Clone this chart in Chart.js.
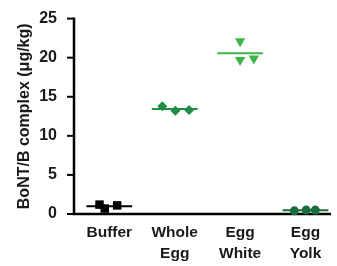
<!DOCTYPE html>
<html>
<head>
<meta charset="utf-8">
<script src="https://cdn.jsdelivr.net/npm/chart.js@4/dist/chart.umd.min.js"></script>
<style>
  html,body{margin:0;padding:0;background:#fff;}
  #wrap{position:relative;width:337px;height:266px;}
</style>
</head>
<body>
<div id="wrap"><canvas id="c"></canvas></div>
<script>
/* groups along the x axis */
var groups=[['Buffer'],['Whole','Egg'],['Egg','White'],['Egg','Yolk']];
/* measured values, three replicates per group (ug/kg) */
var bufferVals=[1.2,0.7,1.1];
var wholeEggVals=[13.8,13.2,13.3];
var eggWhiteVals=[22.1,19.7,19.9];
var eggYolkVals=[0.4,0.5,0.5];
/* horizontal scatter of the replicate symbols, in group units */
var bufferJit=[-0.15,-0.07,0.12];
var wholeEggJit=[-0.19,0.01,0.22];
var eggWhiteJit=[0,0,0.21];
var eggYolkJit=[-0.17,0.01,0.15];
var yTicks=[0,5,10,15,20,25];

var FONT='"Liberation Sans", Arial, sans-serif';
var series=[
  {vals:bufferVals,jit:bufferJit,col:'#000000',ps:'rect',r:6,rot:0},
  {vals:wholeEggVals,jit:wholeEggJit,col:'#1f8c47',ps:'rectRot',r:5,rot:0},
  {vals:eggWhiteVals,jit:eggWhiteJit,col:'#3db54a',ps:'triangle',r:6,rot:180},
  {vals:eggYolkVals,jit:eggYolkJit,col:'#1b6d40',ps:'circle',r:4.5,rot:0}
];

var ds=[];
series.forEach(function(s,i){
  var cx=i+1;
  var mean=s.vals.reduce(function(a,b){return a+b;},0)/s.vals.length;
  ds.push({type:'scatter',data:[{x:cx-0.35,y:mean},{x:cx+0.35,y:mean}],showLine:true,
    borderColor:s.col,borderWidth:2,pointRadius:0,clip:false});
  ds.push({type:'scatter',data:s.vals.map(function(v,k){return{x:cx+s.jit[k],y:v};}),
    pointStyle:s.ps,pointRadius:s.r,pointRotation:s.rot,backgroundColor:s.col,borderColor:s.col,
    borderWidth:0,clip:false});
});

/* axis lines + y tick marks, drawn through the scales */
var axesPlugin={
  id:'axes',
  beforeDatasetsDraw:function(chart){
    var ctx=chart.ctx,a=chart.chartArea,y=chart.scales.y;
    ctx.save();
    ctx.strokeStyle='#000';
    ctx.lineWidth=2;
    yTicks.forEach(function(v){
      var py=y.getPixelForValue(v);
      ctx.beginPath();ctx.moveTo(a.left-7,py);ctx.lineTo(a.left,py);ctx.stroke();
    });
    ctx.lineWidth=2.5;
    ctx.beginPath();
    ctx.moveTo(a.left,y.getPixelForValue(yTicks[yTicks.length-1])-1);
    ctx.lineTo(a.left,a.bottom);
    ctx.lineTo(a.right,a.bottom);
    ctx.stroke();
    ctx.restore();
  }
};

new Chart(document.getElementById('c'),{
  type:'scatter',
  data:{datasets:ds},
  plugins:[axesPlugin],
  options:{
    responsive:true,maintainAspectRatio:false,animation:false,
    layout:{padding:{left:15,right:0,top:9,bottom:0}},
    plugins:{legend:{display:false},tooltip:{enabled:false}},
    scales:{
      x:{type:'linear',min:0.46,max:4.39,
        afterBuildTicks:function(a){a.ticks=groups.map(function(g,i){return{value:i+1};});},
        afterFit:function(a){a.height=52;},
        grid:{display:false},
        border:{display:false},
        ticks:{autoSkip:false,maxRotation:0,padding:1,color:'#1a1a1a',
          font:{family:FONT,size:15.5,weight:'bold',lineHeight:1.3},
          callback:function(v){var g=groups[Math.round(v)-1];return g||'';}}
      },
      y:{min:0,max:25,
        afterBuildTicks:function(a){a.ticks=yTicks.map(function(v){return{value:v};});},
        afterFit:function(a){a.width=59;},
        grid:{display:false},
        border:{display:false},
        ticks:{padding:9,color:'#1a1a1a',font:{family:FONT,size:16,weight:'bold'}},
        title:{display:true,text:'BoNT/B complex (\u03bcg/kg)',color:'#1a1a1a',padding:{top:0,bottom:0},
          font:{family:FONT,size:16,weight:'bold'}}
      }
    }
  }
});
</script>
</body>
</html>
